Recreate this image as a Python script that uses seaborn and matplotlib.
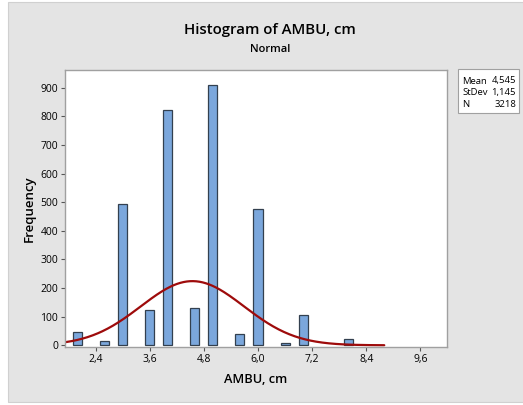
import numpy as np
import pandas as pd
import matplotlib
matplotlib.use("Agg")
import matplotlib.pyplot as plt
import seaborn as sns
from matplotlib.patches import Rectangle

# data
bin_centers = [2.0, 2.6, 3.0, 3.6, 4.0, 4.6, 5.0, 5.6, 6.0, 6.6, 7.0, 8.0]
counts = [48, 15, 495, 122, 822, 129, 910, 38, 476, 9, 105, 23]
stat_mean = 4.545
stat_sd = 1.145
stat_n = 3218
x_ticks = [2.4, 3.6, 4.8, 6.0, 7.2, 8.4, 9.6]
y_ticks = [0, 100, 200, 300, 400, 500, 600, 700, 800, 900]

sns.set_theme(style="white")
plt.rcParams['font.family'] = ['Open Sans', 'DejaVu Sans']
plt.rcParams['text.color'] = 'black'
plt.rcParams['axes.labelcolor'] = 'black'
plt.rcParams['xtick.color'] = 'black'
plt.rcParams['ytick.color'] = 'black'

fig = plt.figure(figsize=(5.23, 4.05), dpi=100)
fig.patch.set_facecolor("white")
fig.patches.append(Rectangle((8 / 523, 1 - 402 / 405), 1, (402 - 2) / 405,
                             transform=fig.transFigure, facecolor="#e4e4e4",
                             edgecolor="#d0d0d0", lw=0.8, zorder=-10))
ax = fig.add_axes([65 / 523, 1 - 347 / 405, (446.5 - 65) / 523, (347 - 69.5) / 405])
ax.set_facecolor("white")

df = pd.DataFrame({"x": bin_centers, "w": counts})
binw = 0.2
edges = [round(1.9 + i * binw, 2) for i in range(32)]
sns.histplot(data=df, x="x", weights="w", bins=edges, ax=ax,
             color="#7ba7dc", edgecolor="#33404f", linewidth=0.9, alpha=1.0)
for p in list(ax.patches):
    if p.get_height() <= 0:
        p.remove()

xs = np.linspace(1.72, 8.8, 300)
pdf = stat_n * binw / (stat_sd * np.sqrt(2 * np.pi)) * np.exp(-0.5 * ((xs - stat_mean) / stat_sd) ** 2)
sns.lineplot(x=xs, y=pdf, ax=ax, color="#9e0b0b", linewidth=1.6)

ax.set_xlim(1.72, 10.18)
ax.set_ylim(-6, 964)
ax.set_xticks(x_ticks)
ax.set_xticklabels([f"{v:.1f}".replace(".", ",") for v in x_ticks], fontsize=7.5)
ax.set_yticks(y_ticks)
ax.set_yticklabels([str(v) for v in y_ticks], fontsize=7.5)
ax.tick_params(axis="both", direction="out", length=3, width=0.8, color="#555555",
               pad=2, bottom=True, left=True)
for s in ax.spines.values():
    s.set_color("#a0a0a0")
    s.set_linewidth(1.0)

ax.set_xlabel("AMBU, cm", fontsize=9.2, fontweight="semibold", labelpad=6)
ax.set_ylabel("Frequency", fontsize=9.5, fontweight="semibold", labelpad=3)

fig.text(270 / 523, 1 - 30 / 405, "Histogram of AMBU, cm", ha="center", va="center",
         fontsize=10.8, fontweight="semibold")
fig.text(270 / 523, 1 - 49 / 405, "Normal", ha="center", va="center",
         fontsize=8, fontweight="semibold")

# stats box
bx0, by0, bx1, by1 = 458, 69, 519, 113
fig.patches.append(Rectangle((bx0 / 523, 1 - by1 / 405), (bx1 - bx0) / 523, (by1 - by0) / 405,
                             transform=fig.transFigure, facecolor="white",
                             edgecolor="#a0a0a0", lw=0.8))
rows = [("Mean", "4,545"), ("StDev", "1,145"), ("N", str(stat_n))]
for i, (k, v) in enumerate(rows):
    yy = 1 - (81 + i * 11.5) / 405
    fig.text(462 / 523, yy, k, ha="left", va="center", fontsize=6.8)
    fig.text(516 / 523, yy, v, ha="right", va="center", fontsize=6.8)

fig.savefig("out.png", dpi=100, facecolor=fig.get_facecolor())
